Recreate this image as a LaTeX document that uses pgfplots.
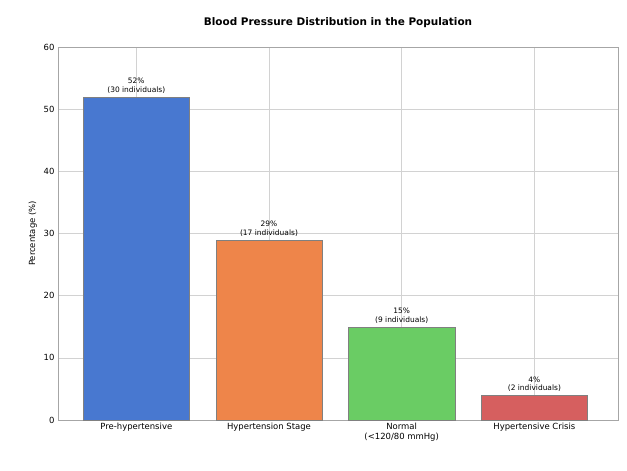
\documentclass[border=0pt]{standalone}
\usepackage{pgfplots}
\pgfplotsset{compat=1.18}
\usepackage{fontspec}
\setmainfont{DejaVu Sans}
\definecolor{c1}{HTML}{4878D0}
\definecolor{c2}{HTML}{EE854A}
\definecolor{c3}{HTML}{6ACC64}
\definecolor{c4}{HTML}{D65F5F}
\begin{document}
\begin{tikzpicture}
\begin{axis}[
  name=ax,
  /pgf/number format/assume math mode=true,
  scale only axis, width=560bp, height=373bp,
  xmin=-0.59, xmax=3.63, ymin=0, ymax=60,
  xtick={0,1,2,3},
  xticklabels={Pre-hypertensive,Hypertension Stage,{Normal\\(<120/80 mmHg)},Hypertensive Crisis},
  xticklabel style={align=center},
  ytick={0,10,...,60},
  tick label style={font=\fontsize{8.5}{10}\selectfont},
  ylabel={Percentage (\%)}, ylabel style={font=\fontsize{8.5}{10}\selectfont},
  title={\textbf{Blood Pressure Distribution in the Population}},
  title style={font=\fontsize{10.5}{12}\selectfont, yshift=10bp},
  grid=major, major grid style={gray!35},
  axis line style={gray!70}, major tick length=0pt,
  ybar, bar width=0.8, bar shift=0pt,
  nodes near coords, point meta=explicit symbolic,
  nodes near coords style={font=\fontsize{7.5}{8.5}\selectfont, align=center},
]
\addplot[fill=c1, draw=gray] coordinates {(0,52) [52\%\\(30 individuals)]};
\addplot[fill=c2, draw=gray] coordinates {(1,29) [29\%\\(17 individuals)]};
\addplot[fill=c3, draw=gray] coordinates {(2,15) [15\%\\(9 individuals)]};
\addplot[fill=c4, draw=gray] coordinates {(3,4) [4\%\\(2 individuals)]};
\end{axis}
\path ([shift={(-58bp,-51bp)}]ax.south west) rectangle ([shift={(9bp,47bp)}]ax.north east);
\end{tikzpicture}
\end{document}
